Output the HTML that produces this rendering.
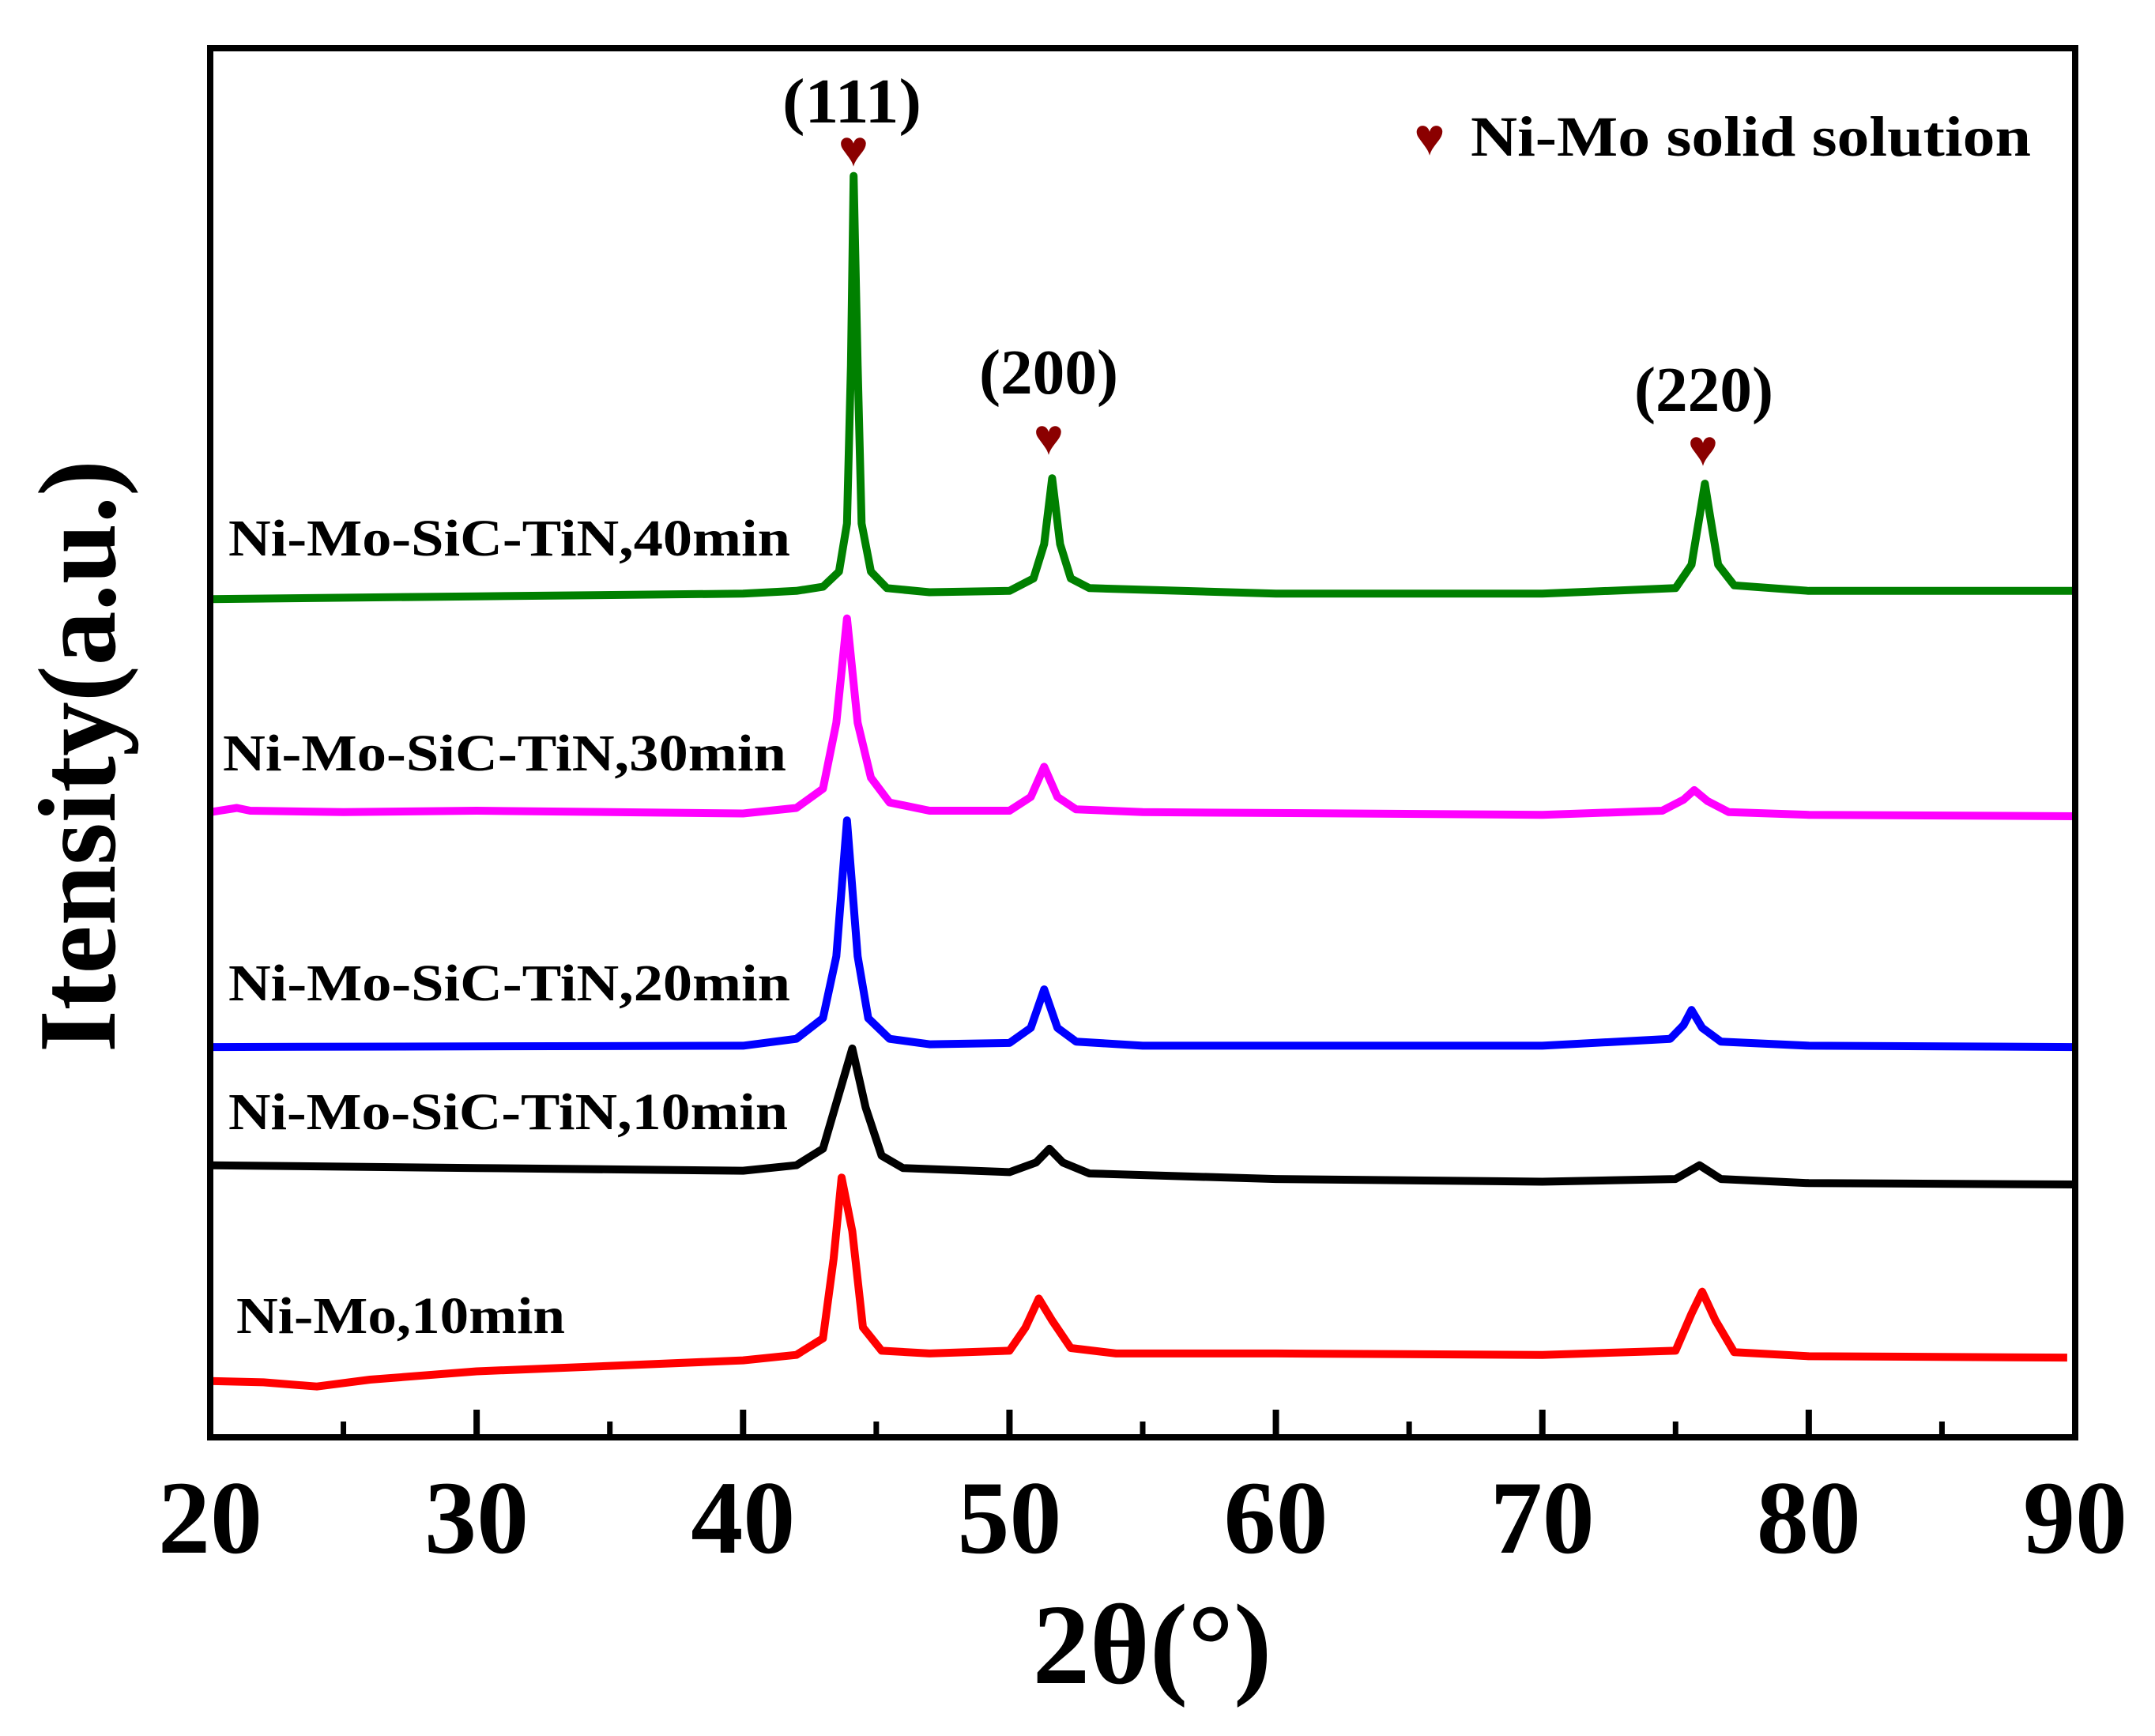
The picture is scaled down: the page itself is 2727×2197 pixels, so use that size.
<!DOCTYPE html>
<html><head><meta charset="utf-8"><style>
html,body{margin:0;padding:0;background:#fff;}
svg{display:block;}
text{font-family:"Liberation Serif",serif;font-weight:bold;fill:#000;}
</style></head><body>
<svg id="chart" width="2727" height="2197" viewBox="0 0 2727 2197" xmlns="http://www.w3.org/2000/svg">
<g id="series"></g>
<rect x="266" y="61" width="2360" height="1758" fill="none" stroke="#000" stroke-width="8"/>
<g id="ticks"></g>
<text x="1458" y="2130" font-size="145" text-anchor="middle">2θ(°)</text>
<text transform="translate(145,957) rotate(-90)" font-size="140" text-anchor="middle" textLength="750" lengthAdjust="spacingAndGlyphs">Itensity(a.u.)</text>
<text x="289" y="703" font-size="66" textLength="711" lengthAdjust="spacingAndGlyphs">Ni-Mo-SiC-TiN,40min</text>
<text x="282" y="975" font-size="66" textLength="713" lengthAdjust="spacingAndGlyphs">Ni-Mo-SiC-TiN,30min</text>
<text x="289" y="1266" font-size="66" textLength="711" lengthAdjust="spacingAndGlyphs">Ni-Mo-SiC-TiN,20min</text>
<text x="289" y="1429" font-size="66" textLength="708" lengthAdjust="spacingAndGlyphs">Ni-Mo-SiC-TiN,10min</text>
<text x="299" y="1687" font-size="66" textLength="416" lengthAdjust="spacingAndGlyphs">Ni-Mo,10min</text>
<text x="1809" y="196" font-size="66" text-anchor="middle" style="fill:#8b0000">♥</text>
<text x="1861" y="197" font-size="72" textLength="709" lengthAdjust="spacingAndGlyphs">Ni-Mo solid solution</text>
<text x="1078" y="155" font-size="80" text-anchor="middle" textLength="176" lengthAdjust="spacingAndGlyphs">(111)</text>
<text x="1327" y="498" font-size="80" text-anchor="middle" textLength="176" lengthAdjust="spacingAndGlyphs">(200)</text>
<text x="2156" y="520" font-size="80" text-anchor="middle" textLength="176" lengthAdjust="spacingAndGlyphs">(220)</text>
<text x="1080" y="210" font-size="64" text-anchor="middle" style="fill:#8b0000">♥</text>
<text x="1327" y="575" font-size="64" text-anchor="middle" style="fill:#8b0000">♥</text>
<text x="2155" y="589" font-size="64" text-anchor="middle" style="fill:#8b0000">♥</text>
</svg>
<script>
const xTicks = [20,30,40,50,60,70,80,90];
const xMinor = [25,35,45,55,65,75,85];
const s40 = [[20,610],[30,612],[40,614],[42,616],[43,619],[43.6,630],[43.9,665],[44.05,780],[44.15,918],[44.3,780],[44.45,665],[44.8,630],[45.4,618],[47,615],[50,616],[50.9,625],[51.3,650],[51.6,698],[51.9,650],[52.3,625],[53,618],[60,614],[70,614],[75,618],[75.6,635],[75.9,670],[76.1,694],[76.3,670],[76.6,635],[77.2,620],[80,616],[90,616]];
const s30 = [[20,455],[21,458],[21.5,456],[25,455],[30,456],[40,454],[42,458],[43,472],[43.5,520],[43.9,596],[44.3,520],[44.8,480],[45.5,462],[47,456],[50,456],[50.8,466],[51.3,488],[51.8,466],[52.5,457],[55,455],[70,453],[74.5,456],[75.3,464],[75.7,471],[76.2,463],[77,455],[80,453],[90,452]];
const s20 = [[20,284],[40,285],[42,290],[43,305],[43.5,350],[43.9,449],[44.3,350],[44.7,305],[45.5,290],[47,286],[50,287],[50.8,298],[51.3,326],[51.8,298],[52.5,288],[55,285],[70,285],[74.8,290],[75.3,300],[75.6,311],[76,298],[76.7,288],[80,285],[90,284]];
const s10 = [[20,198],[30,196],[40,194],[42,198],[43,210],[43.6,250],[44.1,283],[44.6,240],[45.2,205],[46,196],[50,193],[51,200],[51.5,210],[52,200],[53,192],[60,188],[70,186],[75,188],[75.9,198],[76.7,188],[80,185],[90,184]];
const sNiMo = [[20,41],[22,40],[24,37],[26,42],[30,48],[35,52],[40,56],[42,60],[43,72],[43.4,130],[43.7,189],[44.1,150],[44.5,80],[45.2,63],[47,61],[50,63],[50.6,80],[51.1,101],[51.6,85],[52.3,65],[54,61],[60,61],[70,60],[75,63],[75.6,90],[76,106],[76.5,85],[77.2,62],[80,59],[89.7,58]];
const seriesNames = ['series-40min','series-30min','series-20min','series-10min','series-nimo-10min'];
const seriesColors = ['#008000','#ff00ff','#0000ff','#000000','#ff0000'];

function xs(v){return 266+(v-20)*(2360/70);}
function ys(v){return 1819-v*1.739;}
const NS='http://www.w3.org/2000/svg';
const tg=document.getElementById('ticks');
xTicks.forEach(t=>{
  const l=document.createElementNS(NS,'line');
  l.setAttribute('x1',xs(t));l.setAttribute('x2',xs(t));l.setAttribute('y1',1819);l.setAttribute('y2',1784);
  l.setAttribute('stroke','#000');l.setAttribute('stroke-width','8');
  
  
  tg.appendChild(l);
  const tx=document.createElementNS(NS,'text');
  tx.setAttribute('x',xs(t));tx.setAttribute('y',1965);tx.setAttribute('font-size','132');tx.setAttribute('text-anchor','middle');
  tx.textContent=t;
  
  
  tg.appendChild(tx);
});
xMinor.forEach(t=>{
  const l=document.createElementNS(NS,'line');
  l.setAttribute('x1',xs(t));l.setAttribute('x2',xs(t));l.setAttribute('y1',1819);l.setAttribute('y2',1799);
  l.setAttribute('stroke','#000');l.setAttribute('stroke-width','7');
  
  
  tg.appendChild(l);
});
const sg=document.getElementById('series');
[s40,s30,s20,s10,sNiMo].forEach((s,i)=>{
  const p=document.createElementNS(NS,'polyline');
  p.setAttribute('points',s.map(d=>xs(d[0]).toFixed(1)+','+ys(d[1]).toFixed(1)).join(' '));
  p.setAttribute('fill','none');p.setAttribute('stroke',seriesColors[i]);p.setAttribute('stroke-width','10');
  p.setAttribute('stroke-linejoin','round');
  
  
  sg.appendChild(p);
});
</script>
</body></html>
